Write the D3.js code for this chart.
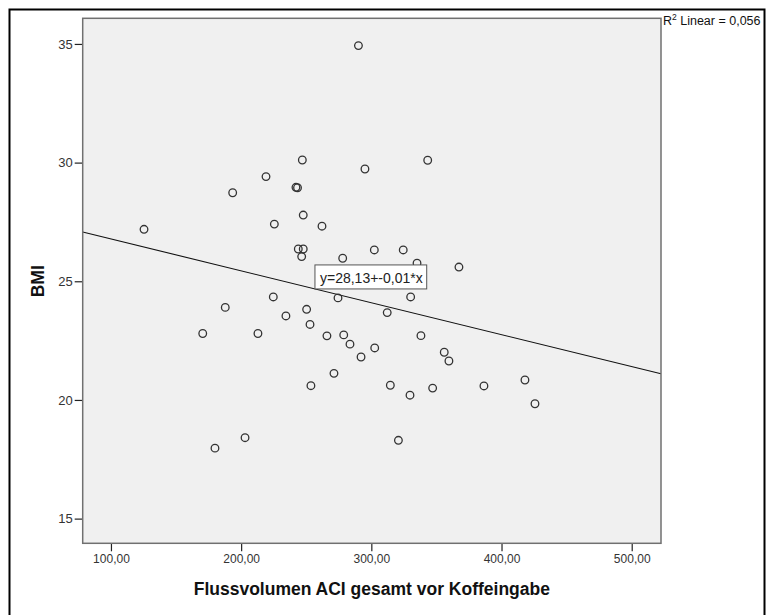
<!DOCTYPE html>
<html>
<head>
<meta charset="utf-8">
<script src="https://cdn.jsdelivr.net/npm/d3@7"></script>
<style>
  body { margin: 0; background: #fff; }
  svg text { font-family: Arial, "Liberation Sans", sans-serif; }
</style>
</head>
<body>
<div id="container"></div>
<script>
// ------ Data ------
const flussvolumen = [290.1, 247.0, 295.1, 219.1, 193.5, 242.1, 243.3, 247.7, 225.5, 262.1,
  125.4, 243.9, 247.7, 246.5, 278.0, 302.3, 324.5, 335.1, 224.7, 187.8,
  234.4, 250.3, 252.9, 274.4, 312.2, 330.2, 170.5, 212.9, 265.9, 278.8,
  283.6, 302.6, 338.1, 343.3, 367.3, 292.1, 271.3, 253.6, 314.6, 329.7,
  203.0, 179.9, 320.8, 356.0, 359.6, 347.1, 386.5, 418.0, 425.7];
const bmi = [34.93, 30.11, 29.73, 29.41, 28.73, 28.96, 28.94, 27.79, 27.41, 27.32,
  27.19, 26.36, 26.36, 26.04, 25.97, 26.32, 26.32, 25.76, 24.34, 23.90,
  23.54, 23.82, 23.18, 24.30, 23.68, 24.34, 22.80, 22.80, 22.70, 22.74,
  22.35, 22.19, 22.71, 30.10, 25.60, 21.81, 21.12, 20.60, 20.62, 20.20,
  18.41, 17.97, 18.30, 22.01, 21.64, 20.50, 20.59, 20.84, 19.84];
const xTicks = [100, 200, 300, 400, 500];
const yTicks = [15, 20, 25, 30, 35];
const fitIntercept = 28.13,
  fitSlope = -0.01345;
const fitLabel = 'y=28,13+-0,01*x';
const r2Value = '0,056';
const xTitle = 'Flussvolumen ACI gesamt vor Koffeingabe';
const yTitle = 'BMI';

// ------ Global Values ------
const width = 768,
  height = 615;
const plot = { left: 82.7, right: 661, top: 18.3, bottom: 543.3 };

const svg = d3.select('#container').append('svg')
  .attr('width', width)
  .attr('height', height);

const x = d3.scaleLinear()
  .domain([78.3, 522.5])
  .range([plot.left, plot.right]);

const y = d3.scaleLinear()
  .domain([13.96, 36.08])
  .range([plot.bottom, plot.top]);

const de = d3.formatLocale({ decimal: ',', thousands: '.', grouping: [3], currency: ['', ' €'] });

// outer frame (bottom edge runs off the picture)
svg.append('rect')
  .attr('x', 9.5).attr('y', 9.5)
  .attr('width', 755).attr('height', 640)
  .attr('fill', 'none')
  .attr('stroke', '#000')
  .attr('stroke-width', 2);

// plot background
svg.append('rect')
  .attr('x', plot.left).attr('y', plot.top)
  .attr('width', plot.right - plot.left)
  .attr('height', plot.bottom - plot.top)
  .attr('fill', '#f0f0f0');

// ------ Axes ------
const xAxis = svg.append('g')
  .attr('transform', `translate(0,${plot.bottom})`)
  .call(d3.axisBottom(x).tickValues(xTicks).tickSize(8).tickPadding(3).tickFormat(de.format('.2f')));

const yAxis = svg.append('g')
  .attr('transform', `translate(${plot.left},0)`)
  .call(d3.axisLeft(y).tickValues(yTicks).tickSize(8).tickPadding(2).tickFormat(d3.format('d')));

[xAxis, yAxis].forEach(a => {
  a.select('.domain').remove();
  a.selectAll('line').attr('stroke', '#222').attr('stroke-width', 1.2);
  a.selectAll('text').attr('fill', '#333').attr('font-family', 'Arial, "Liberation Sans", sans-serif');
});
xAxis.selectAll('text').attr('font-size', 12);
yAxis.selectAll('text').attr('font-size', 13);

svg.append('text')
  .attr('x', (plot.left + plot.right) / 2)
  .attr('y', 595)
  .attr('text-anchor', 'middle')
  .attr('font-size', 17.5)
  .attr('font-weight', 'bold')
  .attr('fill', '#111')
  .text(xTitle);

svg.append('text')
  .attr('transform', `translate(44,${y(25)}) rotate(-90)`)
  .attr('text-anchor', 'middle')
  .attr('font-size', 17.5)
  .attr('font-weight', 'bold')
  .attr('fill', '#111')
  .text(yTitle);

// ------ Fit line ------
const xd = x.domain();
svg.append('line')
  .attr('x1', x(xd[0])).attr('y1', y(fitIntercept + fitSlope * xd[0]))
  .attr('x2', x(xd[1])).attr('y2', y(fitIntercept + fitSlope * xd[1]))
  .attr('stroke', '#111')
  .attr('stroke-width', 1.1);

// ------ Points ------
svg.append('g')
  .selectAll('circle').data(d3.zip(flussvolumen, bmi))
    .enter().append('circle')
    .attr('cx', d => x(d[0]))
    .attr('cy', d => y(d[1]))
    .attr('r', 3.8)
    .attr('fill', 'none')
    .attr('stroke', '#333')
    .attr('stroke-width', 1.3);

// equation label, bottom-left corner sitting on the line
const labelX = 256.7;
const lg = svg.append('g')
  .attr('transform', `translate(${x(labelX)},${y(fitIntercept + fitSlope * labelX)})`);
const lt = lg.append('text')
  .attr('x', 5).attr('y', -6)
  .attr('font-size', 14)
  .attr('fill', '#222')
  .text(fitLabel);
const tw = lt.node().getComputedTextLength();
lg.insert('rect', 'text')
  .attr('x', 0).attr('y', -24)
  .attr('width', tw + 9).attr('height', 24)
  .attr('fill', '#fff')
  .attr('stroke', '#555')
  .attr('stroke-width', 1);

// plot border on top
svg.append('rect')
  .attr('x', plot.left).attr('y', plot.top)
  .attr('width', plot.right - plot.left)
  .attr('height', plot.bottom - plot.top)
  .attr('fill', 'none')
  .attr('stroke', '#707070')
  .attr('stroke-width', 1.5);

// R² note
const r2 = svg.append('text')
  .attr('x', 663).attr('y', 25)
  .attr('font-size', 12.5)
  .attr('fill', '#111');
r2.append('tspan').text('R');
r2.append('tspan').attr('font-size', 8.5).attr('dy', -5).text('2');
r2.append('tspan').attr('dy', 5).text(` Linear = ${r2Value}`);
</script>
</body>
</html>
